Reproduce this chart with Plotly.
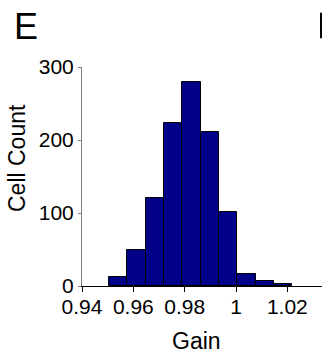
import plotly.graph_objects as go

# Histogram of cell gains (bin centres and counts)
bin_centers = [0.9541, 0.9612, 0.9684, 0.9755, 0.9827, 0.9898, 0.9970, 1.0041, 1.0112, 1.0184]
counts = [13, 49, 120, 223, 280, 211, 101, 16, 7, 3]
bin_width = 0.00714

x_ticks = [0.94, 0.96, 0.98, 1.0, 1.02]
x_tick_labels = ["0.94", "0.96", "0.98", "1", "1.02"]
y_ticks = [0, 100, 200, 300]

W, H = 322, 354
L, R, T, B = 82, 0, 67, 68
FONT = "Liberation Sans, Arial, sans-serif"


def px_x(p):
    return (p - L) / (W - L - R)


def px_y(p):
    return (H - B - p) / (H - B - T)


fig = go.Figure()
fig.add_trace(go.Bar(
    x=bin_centers,
    y=counts,
    width=bin_width,
    marker=dict(color="#000088", line=dict(color="#000000", width=1)),
    showlegend=False,
))

fig.update_layout(
    width=W, height=H,
    margin=dict(l=L, r=R, t=T, b=B),
    paper_bgcolor="white",
    plot_bgcolor="white",
    font=dict(family=FONT, color="black"),
    bargap=0,
    xaxis=dict(
        range=[0.94, 1.0335],
        tickvals=x_ticks,
        ticktext=x_tick_labels,
        ticks="outside", ticklen=5, tickcolor="black", tickwidth=1,
        ticklabelstandoff=-3,
        showline=True, linecolor="black", linewidth=1,
        showgrid=False, zeroline=False,
        tickfont=dict(size=21, family=FONT, color="black"),
    ),
    yaxis=dict(
        range=[0, 300],
        tickvals=y_ticks,
        ticks="outside", ticklen=3, tickcolor="#808080", tickwidth=1,
        showline=True, linecolor="#808080", linewidth=1,
        showgrid=False, zeroline=False,
        tickfont=dict(size=21, family=FONT, color="black"),
    ),
    annotations=[
        dict(text="Gain", xref="paper", yref="paper",
             x=px_x(196), y=px_y(341),
             xanchor="center", yanchor="middle", showarrow=False,
             font=dict(size=23, family=FONT, color="black")),
        dict(text="Cell Count", xref="paper", yref="paper",
             x=px_x(17), y=px_y(158),
             xanchor="center", yanchor="middle", textangle=-90, showarrow=False,
             font=dict(size=23, family=FONT, color="black")),
        dict(text="E", xref="paper", yref="paper",
             x=px_x(12), y=px_y(26),
             xanchor="left", yanchor="middle", showarrow=False,
             font=dict(size=36, family=FONT, color="black")),
    ],
    # stem of the neighbouring panel's letter at the right edge
    shapes=[
        dict(type="rect", xref="paper", yref="paper",
             x0=px_x(320), x1=px_x(323), y0=px_y(38.3), y1=px_y(12.7),
             fillcolor="black", line=dict(width=0)),
    ],
)

fig.write_html("out.html")
